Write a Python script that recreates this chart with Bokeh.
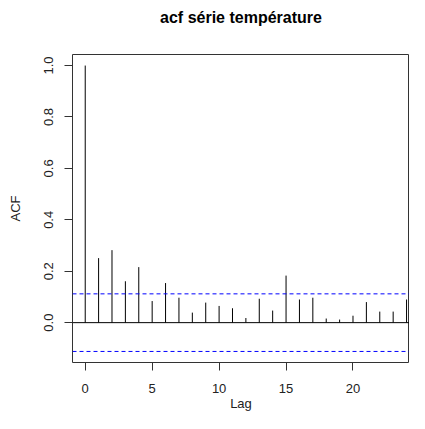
from bokeh.plotting import figure
from bokeh.models import Range1d, FixedTicker, Span, ColumnDataSource, PrintfTickFormatter, LinearAxis
from bokeh.embed import file_html
from bokeh.resources import INLINE

# ---- data ----
lags = list(range(0, 25))
acf_values = [1.000, 0.251, 0.282, 0.161, 0.216, 0.084, 0.154, 0.097, 0.039,
              0.078, 0.065, 0.056, 0.018, 0.093, 0.047, 0.183, 0.090, 0.097,
              0.016, 0.012, 0.027, 0.080, 0.043, 0.043, 0.090]
conf_limit = 0.112
x_ticks = [0, 5, 10, 15, 20]
y_ticks = [0.0, 0.2, 0.4, 0.6, 0.8, 1.0]
title_text = "acf série température"
x_label = "Lag"
y_label = "ACF"

FONT = "Liberation Sans"
INK = "#222222"

src = ColumnDataSource(data=dict(lag=lags, acf=acf_values, base=[0.0] * len(lags)))

p = figure(width=409, height=413, output_backend="svg", toolbar_location=None,
           x_range=Range1d(-0.95, 24.22), y_range=Range1d(-0.155, 1.043),
           min_border_left=72, min_border_right=0, min_border_top=54, min_border_bottom=50)

p.background_fill_color = "white"
p.border_fill_color = "white"
p.outline_line_color = "#333333"
p.outline_line_width = 1
p.xgrid.visible = False
p.ygrid.visible = False
p.title.text = ""

# bottom / left axes (referenced explicitly)
xax = p.below[0]
yax = p.left[0]
for ax in (xax, yax):
    ax.major_tick_in = 0
    ax.major_tick_out = 8
    ax.minor_tick_line_color = None
    ax.axis_line_color = "#333333"
    ax.major_tick_line_color = "#333333"
    ax.major_label_text_font = FONT
    ax.major_label_text_font_size = "13px"
    ax.major_label_text_color = INK
    ax.axis_label_text_font = FONT
    ax.axis_label_text_font_size = "13px"
    ax.axis_label_text_font_style = "normal"
    ax.axis_label_text_color = INK

xax.ticker = FixedTicker(ticks=x_ticks)
xax.bounds = (x_ticks[0], x_ticks[-1])
xax.axis_label = x_label
xax.major_label_standoff = 13
xax.axis_label_standoff = 0

yax.ticker = FixedTicker(ticks=y_ticks)
yax.bounds = (y_ticks[0], y_ticks[-1])
yax.formatter = PrintfTickFormatter(format="%.1f")
yax.major_label_orientation = "vertical"
yax.axis_label = y_label
yax.major_label_standoff = 11
yax.axis_label_standoff = 19

# title drawn as the label of an invisible axis above the frame (R-style gap)
title_axis = LinearAxis(ticker=FixedTicker(ticks=[]), major_tick_out=0, major_tick_in=0,
                        major_label_standoff=0, axis_line_color=None,
                        major_tick_line_color=None, minor_tick_line_color=None,
                        axis_label=title_text, axis_label_standoff=29,
                        axis_label_text_font=FONT, axis_label_text_font_size="16px",
                        axis_label_text_font_style="bold", axis_label_text_color="black")
p.add_layout(title_axis, "above")

# acf bars
p.segment(x0="lag", y0="base", x1="lag", y1="acf", source=src,
          line_color="black", line_width=1)

# zero line and confidence bounds
p.add_layout(Span(location=0, dimension="width", line_color="black", line_width=1))
p.add_layout(Span(location=conf_limit, dimension="width", line_color="#0000ff",
                  line_width=1, line_dash="4 3"))
p.add_layout(Span(location=-conf_limit, dimension="width", line_color="#0000ff",
                  line_width=1, line_dash="4 3"))

open("out.html", "w").write(file_html(p, INLINE))
